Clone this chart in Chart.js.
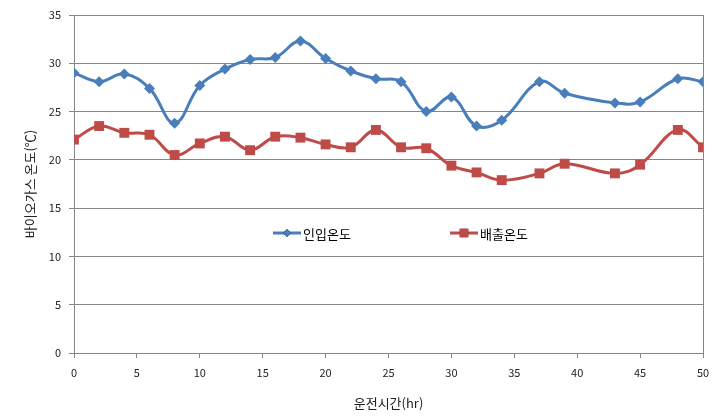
<!DOCTYPE html>
<html>
<head>
<meta charset="utf-8">
<script src="https://cdn.jsdelivr.net/npm/chart.js@4/dist/chart.umd.min.js"></script>
<style>
html,body{margin:0;padding:0;background:#fff;}
#wrap{width:720px;height:418px;}
</style>
</head>
<body>
<div id="wrap"><canvas id="c" width="720" height="418"></canvas></div>
<script>
const hours = [0,2,4,6,8,10,12,14,16,18,20,22,24,26,28,30,32,34,37,39,43,45,48,50];
const inletTemp = [29.0,28.1,28.9,27.4,23.8,27.7,29.4,30.4,30.6,32.3,30.5,29.2,28.4,28.1,25.0,26.5,23.5,24.1,28.1,26.9,25.9,26.0,28.4,28.1];
const outletTemp = [22.1,23.5,22.8,22.6,20.5,21.7,22.4,21.0,22.4,22.3,21.6,21.3,23.1,21.3,21.2,19.4,18.7,17.9,18.6,19.6,18.6,19.5,23.1,21.3];
const seriesNames = ['인입온도','배출온도'];
const xTitle = '운전시간(hr)';
const yTitle = '바이오가스 온도(℃)';

const FONT = "'Noto Sans CJK KR', 'Noto Sans', sans-serif";
const GRID = '#868686';
const BLUE = '#4A7EBB';
const RED = '#BE4B48';

const legendPlugin = {
  id: 'innerLegend',
  afterDatasetsDraw(chart) {
    const ctx = chart.ctx;
    const items = [
      {x: 273, y: 233, ds: chart.data.datasets[0], r: 4},
      {x: 450, y: 233, ds: chart.data.datasets[1], r: 6}
    ];
    ctx.save();
    items.forEach(it => {
      ctx.strokeStyle = it.ds.borderColor;
      ctx.lineWidth = 3;
      ctx.beginPath();
      ctx.moveTo(it.x, it.y);
      ctx.lineTo(it.x + 28, it.y);
      ctx.stroke();
      Chart.helpers.drawPoint(ctx, {
        pointStyle: it.ds.pointStyle,
        radius: it.r,
        borderWidth: 0
      }, it.x + 14, it.y);
      ctx.fillStyle = it.ds.pointBackgroundColor;
      ctx.fill();
      ctx.fillStyle = '#000';
      ctx.font = "13px " + FONT;
      ctx.textBaseline = 'middle';
      ctx.textAlign = 'left';
      ctx.fillText(it.ds.label, it.x + 30, it.y + 1);
    });
    ctx.restore();
  }
};

new Chart(document.getElementById('c'), {
  type: 'line',
  data: {
    datasets: [
      {
        label: seriesNames[0],
        data: hours.map((h, i) => ({x: h, y: inletTemp[i]})),
        borderColor: BLUE,
        backgroundColor: BLUE,
        pointBackgroundColor: BLUE,
        pointBorderColor: BLUE,
        pointBorderWidth: 0,
        pointStyle: 'rectRot',
        pointRadius: 5.5,
        borderWidth: 3,
        tension: 0.4
      },
      {
        label: seriesNames[1],
        data: hours.map((h, i) => ({x: h, y: outletTemp[i]})),
        borderColor: RED,
        backgroundColor: RED,
        pointBackgroundColor: RED,
        pointBorderColor: RED,
        pointBorderWidth: 0,
        pointStyle: 'rect',
        pointRadius: 7,
        borderWidth: 3,
        tension: 0.4
      }
    ]
  },
  options: {
    responsive: false,
    animation: false,
    layout: {padding: {left: 0, right: 17, top: 15, bottom: 0}},
    plugins: {
      legend: {display: false},
      tooltip: {enabled: false}
    },
    scales: {
      x: {
        type: 'linear',
        min: 0, max: 50,
        ticks: {stepSize: 5, color: '#222', font: {family: FONT, size: 11}, padding: 8, maxRotation: 0},
        grid: {
          color: c => (c.tick && c.tick.value === 50) ? GRID : 'rgba(0,0,0,0)',
          tickColor: GRID, tickLength: 5, lineWidth: 1
        },
        border: {color: GRID, width: 1},
        title: {display: true, text: xTitle, color: '#222', font: {family: FONT, size: 13}, padding: {top: 4, bottom: 7}},
        afterFit(s) { s.height = 65; }
      },
      y: {
        min: 0, max: 35,
        ticks: {stepSize: 5, color: '#222', font: {family: FONT, size: 11}, padding: 8},
        grid: {color: GRID, tickColor: GRID, tickLength: 5, lineWidth: 1},
        border: {color: GRID, width: 1},
        title: {display: true, text: yTitle, color: '#222', font: {family: FONT, size: 13}, padding: {top: 22, bottom: 0}},
        afterFit(s) { s.width = 74; }
      }
    }
  },
  plugins: [legendPlugin]
});
</script>
</body>
</html>
